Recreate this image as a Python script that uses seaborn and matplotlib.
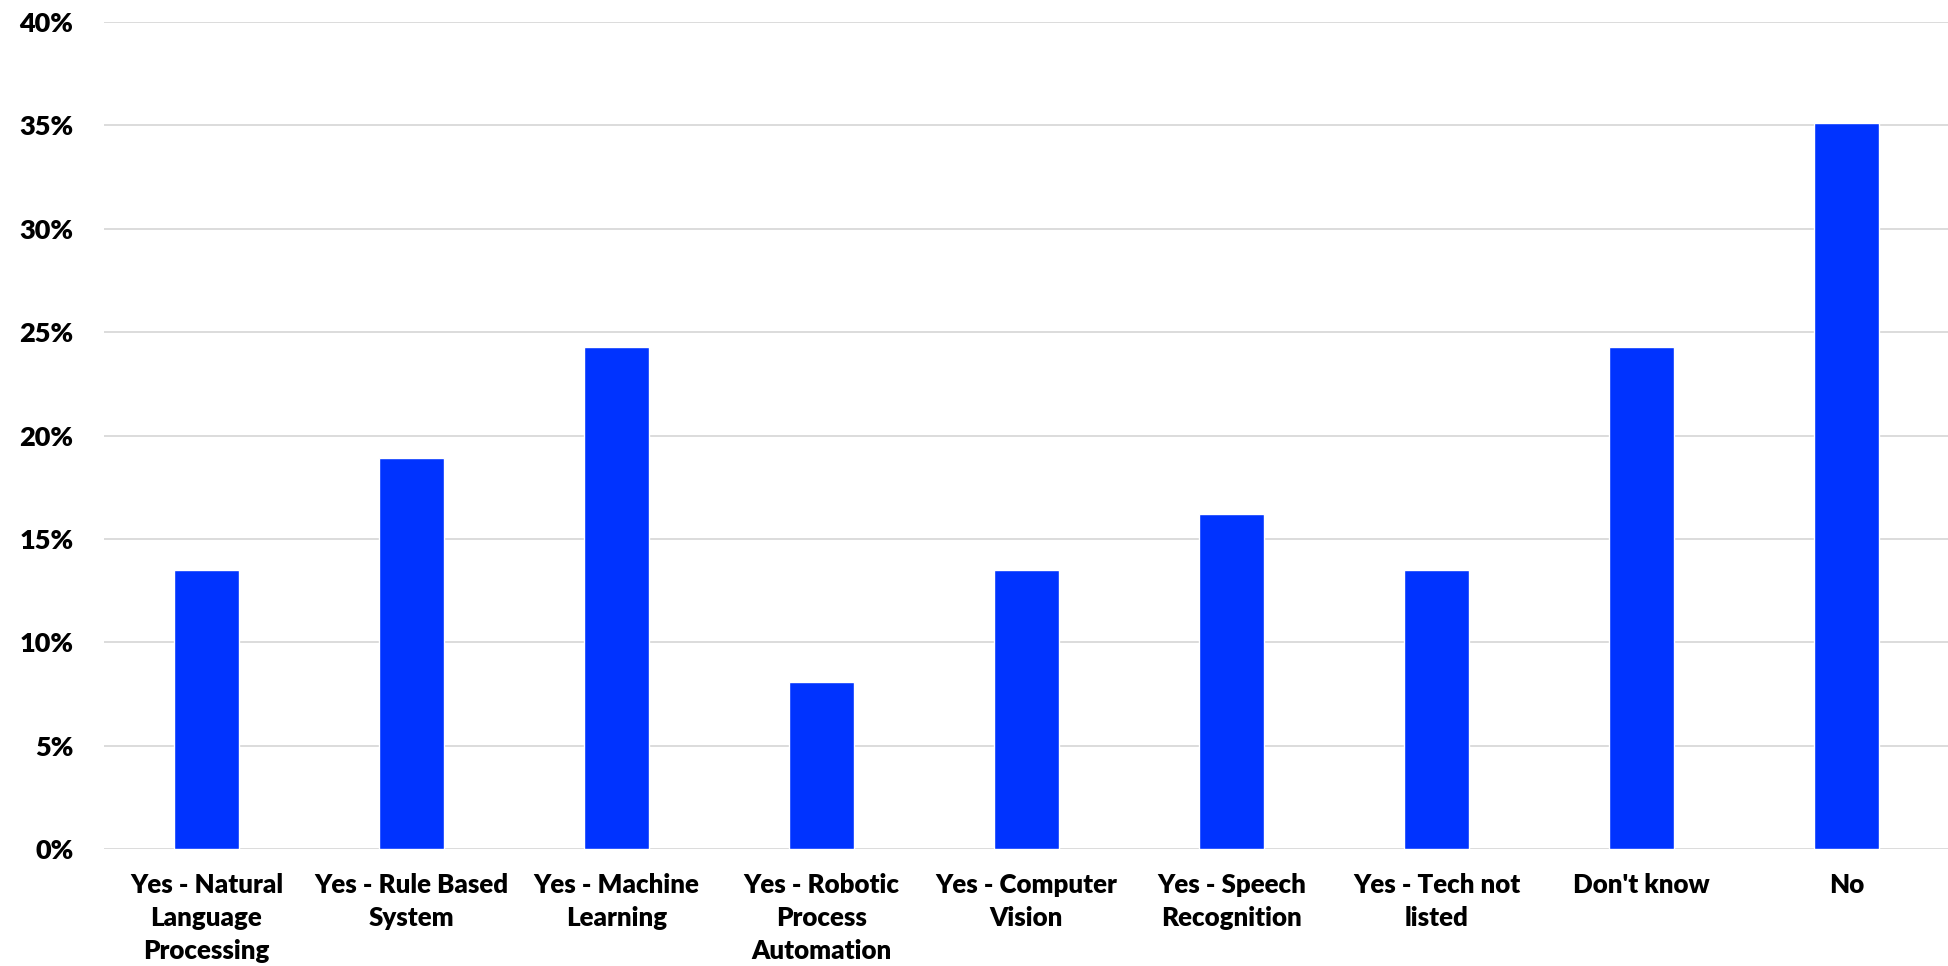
import matplotlib
matplotlib.use("Agg")
import matplotlib.pyplot as plt
import seaborn as sns
import pandas as pd
from matplotlib.ticker import PercentFormatter

# Data (share of respondents, %)
categories = [
    "Yes - Natural\nLanguage\nProcessing",
    "Yes - Rule Based\nSystem",
    "Yes - Machine\nLearning",
    "Yes - Robotic\nProcess\nAutomation",
    "Yes - Computer\nVision",
    "Yes - Speech\nRecognition",
    "Yes - Tech not\nlisted",
    "Don't know",
    "No",
]
values = [13.5, 18.9, 24.3, 8.1, 13.5, 16.2, 13.5, 24.3, 35.1]
y_ticks = [0, 5, 10, 15, 20, 25, 30, 35, 40]

df = pd.DataFrame({"category": categories, "share": values})

sns.set_theme(style="white")
plt.rcParams["font.family"] = ["Lato", "DejaVu Sans"]

fig = plt.figure(figsize=(19.49, 9.66), dpi=100)
ax = fig.add_axes([104 / 1949, 1 - 849 / 966, 1 - 104 / 1949, (849 - 22) / 966])

sns.barplot(data=df, x="category", y="share", color="#0033FF",
            saturation=1, width=0.317, ax=ax, zorder=3)

ax.set_xlim(-0.5, len(categories) - 0.5)
ax.set_ylim(0, 40)
ax.set_yticks(y_ticks)
ax.yaxis.set_major_formatter(PercentFormatter(decimals=0))
ax.grid(axis="y", color="#D9D9D9", linewidth=1.3, zorder=0)
ax.set_axisbelow(True)
for s in ax.spines.values():
    s.set_visible(False)

ax.set_xlabel("")
ax.set_ylabel("")
ax.tick_params(axis="y", length=0, pad=22, labelsize=19.5)
ax.tick_params(axis="x", length=0, pad=17, labelsize=18.6)
for lbl in ax.get_yticklabels() + ax.get_xticklabels():
    lbl.set_fontweight("heavy")
    lbl.set_color("black")
for lbl in ax.get_xticklabels():
    lbl.set_linespacing(1.47)
    lbl.set_verticalalignment("top")

fig.savefig("out.png", dpi=100, facecolor="white")
plt.close(fig)
